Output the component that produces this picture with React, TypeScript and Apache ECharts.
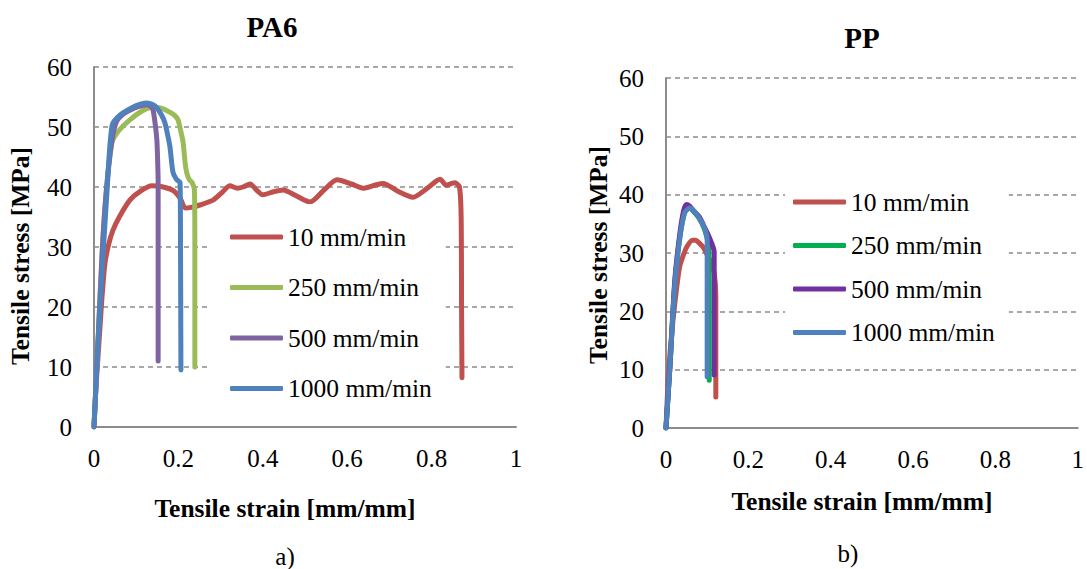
import React, { useEffect, useRef } from "react";
import * as echarts from "echarts";

const FONT = "Liberation Serif";

const SPEEDS = ["10 mm/min", "250 mm/min", "500 mm/min", "1000 mm/min"];
const X_TICKS = [0, 0.2, 0.4, 0.6, 0.8, 1];
const Y_TICKS = [0, 10, 20, 30, 40, 50, 60];

// PA6 curves: [strain mm/mm, stress MPa]
const pa6_10: number[][] = [
  [0, 0], [0.005, 7], [0.0095, 11.7], [0.015, 17.5], [0.019, 21.7], [0.026, 27.3], [0.035, 30.5], [0.045, 32.8],
  [0.06, 35], [0.085, 37.8], [0.11, 39.3], [0.137, 40.2], [0.164, 40], [0.19, 39.3], [0.205, 38],
  [0.216, 36.5], [0.23, 36.6], [0.251, 37], [0.282, 37.8], [0.305, 39.2], [0.322, 40.2], [0.34, 39.8],
  [0.353, 40], [0.37, 40.5], [0.385, 39.5], [0.4, 38.7], [0.425, 39.2], [0.448, 39.5], [0.48, 38.5],
  [0.512, 37.5], [0.545, 39.5], [0.576, 41.2], [0.61, 40.5], [0.638, 39.8], [0.665, 40.3], [0.685, 40.6],
  [0.72, 39.3], [0.756, 38.3], [0.79, 39.8], [0.82, 41.3], [0.835, 40.3], [0.848, 40.6], [0.855, 40.7],
  [0.866, 40], [0.87, 35], [0.871, 20], [0.872, 8.2],
];
const pa6_250: number[][] = [
  [0, 0], [0.01, 15], [0.02, 30], [0.03, 40], [0.043, 47.5], [0.06, 49.5], [0.085, 51.2], [0.11, 52.5],
  [0.133, 53.2], [0.155, 53.2], [0.173, 52.7], [0.19, 52], [0.199, 51.2], [0.205, 49.5], [0.211, 47.5],
  [0.216, 44], [0.22, 42.3], [0.226, 41.2], [0.232, 40.8], [0.238, 39.5], [0.239, 30], [0.239, 10],
];
const pa6_500: number[][] = [
  [0, 0], [0.01, 15], [0.02, 30], [0.03, 40], [0.043, 48], [0.054, 51], [0.07, 52.2], [0.085, 52.8],
  [0.105, 53.4], [0.125, 53.7], [0.135, 53.4], [0.14, 52.8], [0.145, 50.5], [0.149, 47.8], [0.151, 44],
  [0.152, 40.7], [0.152, 11],
];
const pa6_1000: number[][] = [
  [0, 0], [0.008, 12], [0.019, 25.7], [0.031, 39.5], [0.043, 50.3], [0.062, 52], [0.092, 53.3], [0.11, 53.8],
  [0.125, 54], [0.14, 53.7], [0.149, 53.2], [0.16, 52], [0.168, 50.7], [0.175, 48.5], [0.18, 46.7],
  [0.187, 42.5], [0.195, 41.3], [0.204, 40.7], [0.205, 30], [0.206, 9.5],
];

// PP curves
const pp_10: number[][] = [
  [0, 0], [0.005, 8], [0.01, 13], [0.017, 18.5], [0.025, 23.5], [0.033, 27.6], [0.042, 29.6], [0.05, 31],
  [0.064, 32.2], [0.072, 32.2], [0.081, 31.7], [0.09, 31], [0.098, 30], [0.108, 28.5], [0.117, 26.6],
  [0.121, 22.5], [0.121, 5.3],
];
const pp_250: number[][] = [
  [0, 0], [0.01, 11], [0.021, 24.5], [0.033, 32.5], [0.045, 37], [0.053, 38], [0.065, 37.3], [0.08, 36],
  [0.092, 34.3], [0.1, 32.5], [0.104, 31], [0.105, 20], [0.105, 8.2],
];
const pp_500: number[][] = [
  [0, 0], [0.01, 11], [0.021, 25], [0.033, 33], [0.043, 37.3], [0.05, 38.3], [0.058, 38], [0.07, 37],
  [0.081, 36.2], [0.093, 34.5], [0.105, 32.7], [0.117, 30.2], [0.117, 20], [0.117, 9.1],
];
const pp_1000: number[][] = [
  [0, 0], [0.0095, 10.5], [0.021, 24.2], [0.033, 32.2], [0.045, 36.8], [0.057, 37.7], [0.065, 37.4],
  [0.073, 36.8], [0.088, 35.1], [0.095, 34], [0.1, 32.2], [0.1, 20], [0.1, 8.8],
];

const PA6_COLORS = ["#C0504D", "#9BBB59", "#8064A2", "#4F81BD"];
const PP_COLORS = ["#C0504D", "#00B050", "#7030A0", "#4F81BD"];

const AXIS_COLOR = "#8c8c8c";

function buildOption(p: {
  title: string; titleX: number; titleY: number;
  grid: { left: number; top: number; width: number; height: number };
  yNameX: number; yNameY: number; xNameX: number; xNameY: number;
  sub: string; subX: number; subY: number;
  legend: { left: number; top: number; padding: number[]; itemGap: number };
  data: number[][][]; colors: string[];
}) {
  const text = (t: string, x: number, y: number, size: number, bold: boolean, rot = 0) => ({
    type: "text", x, y, rotation: rot, z: 10,
    style: {
      text: t, fill: "#000", fontSize: size, fontFamily: FONT,
      fontWeight: bold ? "bold" : undefined,
      align: "center", verticalAlign: "middle",
    },
  });
  return {
    animation: false,
    textStyle: { fontFamily: FONT },
    grid: p.grid,
    xAxis: {
      type: "value", min: X_TICKS[0], max: X_TICKS[X_TICKS.length - 1], interval: 0.2,
      axisLine: { show: true, lineStyle: { color: AXIS_COLOR, width: 2 } },
      axisTick: { show: false },
      splitLine: { show: false },
      axisLabel: { fontFamily: FONT, fontSize: 25, color: "#000", margin: 19 },
    },
    yAxis: {
      type: "value", min: Y_TICKS[0], max: Y_TICKS[Y_TICKS.length - 1], interval: 10,
      axisLine: { show: true, lineStyle: { color: AXIS_COLOR, width: 2 } },
      axisTick: { show: false },
      splitLine: { show: true, lineStyle: { color: AXIS_COLOR, width: 1.5, type: [5, 4] } },
      axisLabel: { fontFamily: FONT, fontSize: 25, color: "#000", margin: 22 },
    },
    legend: {
      orient: "vertical", left: p.legend.left, top: p.legend.top, padding: p.legend.padding,
      itemGap: p.legend.itemGap, itemWidth: 53, itemHeight: 5, icon: "roundRect",
      backgroundColor: "#fff", data: SPEEDS,
      textStyle: { fontFamily: FONT, fontSize: 25.5, color: "#000" },
    },
    graphic: [
      text(p.title, p.titleX, p.titleY, 29, true),
      text("Tensile stress [MPa]", p.yNameX, p.yNameY, 25.5, true, Math.PI / 2),
      text("Tensile strain [mm/mm]", p.xNameX, p.xNameY, 25.5, true),
      text(p.sub, p.subX, p.subY, 25, false),
    ],
    series: SPEEDS.map((name, i) => ({
      name, type: "line", data: p.data[i], symbol: "none", smooth: 0.25,
      lineStyle: { width: 5, color: p.colors[i], cap: "round", join: "round" },
      itemStyle: { color: p.colors[i] },
    })),
  };
}

function Chart({ left, width, option }: { left: number; width: number; option: any }) {
  const ref = useRef<HTMLDivElement>(null);
  useEffect(() => {
    const chart = echarts.init(ref.current!, undefined, { renderer: "svg" });
    chart.setOption(option);
    return () => chart.dispose();
  }, []);
  return <div ref={ref} style={{ position: "absolute", left, top: 0, width, height: 569 }} />;
}

export default function App() {
  const leftOpt = buildOption({
    title: "PA6", titleX: 272, titleY: 27,
    grid: { left: 94, top: 67, width: 422, height: 360 },
    yNameX: 20, yNameY: 256, xNameX: 285, xNameY: 508,
    sub: "a)", subX: 285, subY: 556,
    legend: { left: 210, top: 204, padding: [20, 14, 12, 20], itemGap: 24.5 },
    data: [pa6_10, pa6_250, pa6_500, pa6_1000], colors: PA6_COLORS,
  });
  const rightOpt = buildOption({
    title: "PP", titleX: 319, titleY: 38,
    grid: { left: 123, top: 78, width: 420, height: 350 },
    yNameX: 55, yNameY: 255, xNameX: 319, xNameY: 501,
    sub: "b)", subX: 305, subY: 553,
    legend: { left: 242, top: 174, padding: [15, 14, 12, 8], itemGap: 17.5 },
    data: [pp_10, pp_250, pp_500, pp_1000], colors: PP_COLORS,
  });
  return (
    <div style={{ position: "absolute", left: 0, top: 0, width: 1087, height: 569, background: "#fff", overflow: "hidden" }}>
      <Chart left={0} width={543} option={leftOpt} />
      <Chart left={543} width={544} option={rightOpt} />
    </div>
  );
}
